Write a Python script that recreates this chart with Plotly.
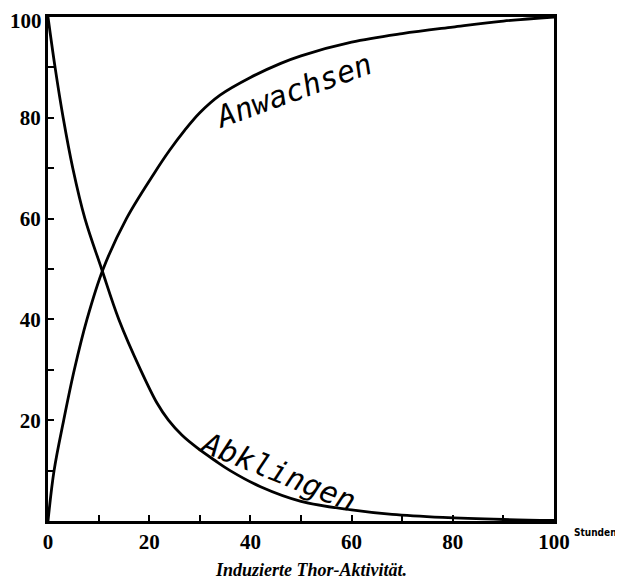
import plotly.graph_objects as go

# Growth curve ("Anwachsen"): hours -> percent
grow_t = [0, 1.2, 3.1, 5.2, 7.7, 10.9, 15.5, 21, 24, 27, 30, 34, 40, 46, 50, 60, 70, 80, 90, 100]
grow_v = [0, 10, 20, 30, 40, 50, 60, 69, 73.5, 77.5, 81, 84.5, 88, 90.8, 92.3, 95.0, 96.7, 98.0, 99.2, 100]

# Decay curve ("Abklingen")
decay_t = [0, 1.4, 3.0, 4.9, 7.3, 10.6, 14.0, 18.3, 21.6, 23.8, 26.5, 29.5, 33, 36, 42, 50, 60, 68, 78, 90, 100]
decay_v = [100, 90, 80, 70, 60, 50, 40, 30, 23.3, 20, 17, 14.5, 12, 10, 6.8, 3.9, 2.2, 1.3, 0.7, 0.3, 0.1]

x_ticks = [0, 20, 40, 60, 80, 100]
y_ticks = [20, 40, 60, 80, 100]

fig = go.Figure()
fig.add_trace(go.Scatter(x=grow_t, y=grow_v, mode="lines",
                         line=dict(color="black", width=2.8, shape="spline", smoothing=1.0),
                         hoverinfo="skip", showlegend=False))
fig.add_trace(go.Scatter(x=decay_t, y=decay_v, mode="lines",
                         line=dict(color="black", width=2.8, shape="spline", smoothing=1.0),
                         hoverinfo="skip", showlegend=False))

tickfont = dict(family="Liberation Serif", size=21, color="black", weight="bold")

fig.update_xaxes(range=[0, 100], tickvals=x_ticks, ticktext=[str(v) for v in x_ticks],
                 showgrid=False, zeroline=False, showline=True, linecolor="black", linewidth=3,
                 mirror=True, ticks="inside", ticklen=6, tickwidth=2, tickcolor="black",
                 minor=dict(dtick=10, tick0=0, ticks="inside", ticklen=6, tickwidth=2, tickcolor="black"),
                 tickfont=tickfont, automargin=False, ticklabeloverflow="allow")
# top label (100) is drawn slightly lower, as in the print, via an annotation below
fig.update_yaxes(range=[0, 100], tickvals=y_ticks,
                 ticktext=[str(v) for v in y_ticks[:-1]] + [""],
                 showgrid=False, zeroline=False, showline=True, linecolor="black", linewidth=3,
                 mirror=True, ticks="inside", ticklen=6, tickwidth=2, tickcolor="black",
                 minor=dict(dtick=10, tick0=0, ticks="inside", ticklen=6, tickwidth=2, tickcolor="black"),
                 tickfont=tickfont, automargin=False, ticklabeloverflow="allow")
fig.add_annotation(x=0, y=y_ticks[-1], xref="paper", yref="y", text=str(y_ticks[-1]),
                   showarrow=False, xanchor="right", yanchor="middle", xshift=-4, yshift=-4,
                   font=tickfont)

hand = dict(family="DejaVu Sans Mono", size=30, color="black", style="italic")
fig.add_annotation(x=48.5, y=85.5, xref="x", yref="y", text="Anwachsen", showarrow=False,
                   textangle=-20, font=hand, xanchor="center", yanchor="middle")
fig.add_annotation(x=45.5, y=9.9, xref="x", yref="y", text="Abklingen", showarrow=False,
                   textangle=22, font=hand, xanchor="center", yanchor="middle")

fig.add_annotation(x=1.035, y=-0.022, xref="paper", yref="paper", text="Stunden", showarrow=False,
                   xanchor="left", yanchor="middle",
                   font=dict(family="DejaVu Sans Condensed", size=10, color="black", weight="bold"))
fig.add_annotation(x=0.52, y=-0.097, xref="paper", yref="paper", text="Induzierte Thor-Aktivität.",
                   showarrow=False, xanchor="center", yanchor="middle",
                   font=dict(family="Liberation Serif", size=18, color="black", style="italic", weight="bold"))

fig.update_layout(width=614, height=576, margin=dict(l=40, r=68, t=9, b=63),
                  paper_bgcolor="white", plot_bgcolor="white")

fig.write_html("out.html")
